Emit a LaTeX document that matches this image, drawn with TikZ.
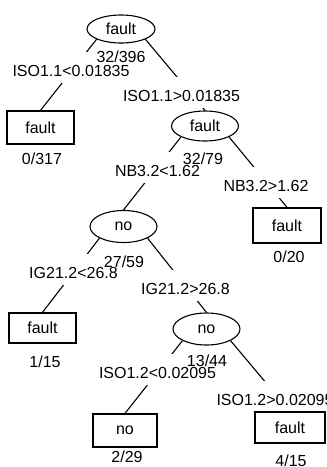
\documentclass[tikz,border=0pt]{standalone}
\usepackage{fontspec}
\setmainfont{Liberation Sans}
\usetikzlibrary{shapes.geometric,backgrounds}
\begin{document}
\begin{tikzpicture}[x=1pt,y=-1pt,font=\fontsize{16}{19}\selectfont,
  ell/.style={ellipse,draw,line width=1.1pt,minimum width=67pt,minimum height=30pt,inner sep=0pt},
  leaf/.style={rectangle,draw,line width=1.3pt,minimum width=67pt,minimum height=32pt,inner sep=0pt},
  edge/.style={line width=1.1pt},
  split/.style={anchor=base,fill=white,inner xsep=1pt,inner ysep=0pt,text height=25pt,text depth=6pt},
  stat/.style={anchor=base,inner sep=0pt}]
\useasboundingbox (0,0) rectangle (327,467);
% tree nodes
\node[ell,minimum width=68pt,minimum height=28pt] (n1) at (121,29) {fault};
\node[leaf,minimum height=33pt] (l1) at (40.5,127.5) {fault};
\node[ell] (n2) at (205,126) {fault};
\node[leaf,minimum width=68pt,minimum height=35pt] (l2) at (287,225.5) {fault};
\node[ell,minimum height=32pt] (n3) at (123.5,226.5) {no};
\node[leaf,minimum height=30pt] (l3) at (42.5,328) {fault};
\node[ell,minimum height=32pt] (n4) at (206.5,329) {no};
\node[leaf,minimum width=64pt,minimum height=33pt] (l4) at (125,430.5) {no};
\node[leaf,minimum width=70pt,minimum height=31pt] (l5) at (290,427.5) {fault};
% edges and split labels
\begin{scope}[on background layer]
\draw[edge] (n1.south west) -- (l1.north);
\draw[edge] (n1.south east) -- (n2.north);
\draw[edge] (n2.south west) -- (n3.north);
\draw[edge] (n2.south east) -- (l2.north);
\draw[edge] (n3.south west) -- (l3.north);
\draw[edge] (n3.south east) -- (n4.north);
\draw[edge] (n4.south west) -- (l4.north);
\draw[edge] (n4.south east) -- (l5.north);
\node[split] (s1L) at (71,76.8) {ISO1.1<0.01835};
\node[split] (s1R) at (181.5,101.8) {ISO1.1>0.01835};
\node[split] (s2L) at (157.5,176.8) {NB3.2<1.62};
\node[split] (s2R) at (266,191.8) {NB3.2>1.62};
\node[split] (s3L) at (73.5,278.8) {IG21.2<26.8};
\node[split] (s3R) at (185.5,294.8) {IG21.2>26.8};
\node[split] (s4L) at (157.5,378.8) {ISO1.2<0.02095};
\node[split] (s4R) at (275,405.8) {ISO1.2>0.02095};
\end{scope}
% counts
\node[stat] (c1) at (121,62.8) {32/396};
\node[stat] (c2) at (42,164.8) {0/317};
\node[stat] (c3) at (203,164.8) {32/79};
\node[stat] (c4) at (289,262.8) {0/20};
\node[stat] (c5) at (124,267.8) {27/59};
\node[stat] (c6) at (45,367.8) {1/15};
\node[stat] (c7) at (207,366.8) {13/44};
\node[stat] (c8) at (127,462.8) {2/29};
\node[stat] (c9) at (291,466.8) {4/15};
\end{tikzpicture}
\end{document}
